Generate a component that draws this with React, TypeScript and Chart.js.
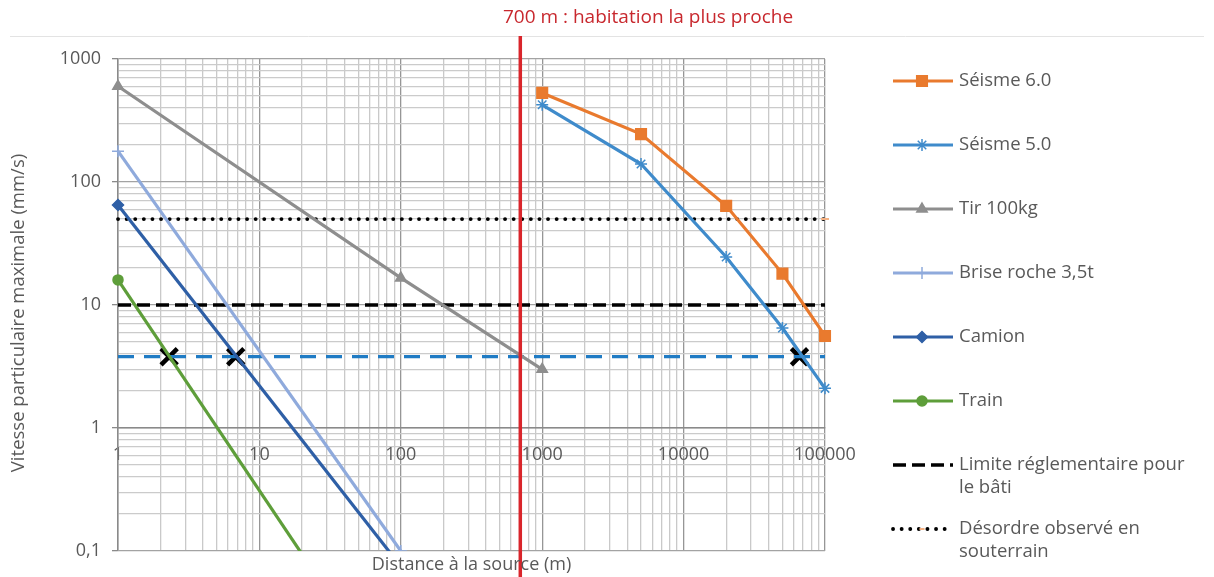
import React, { useEffect, useRef } from "react";
import { Chart, registerables } from "chart.js";
import { drawPoint } from "chart.js/helpers";

Chart.register(...registerables);

// ---------- data ----------
const seisme6X = [1000, 5000, 20000, 50000, 100000];
const seisme6Y = [530, 245, 64, 18, 5.6];
const seisme5X = [1000, 5000, 20000, 50000, 100000];
const seisme5Y = [424, 140, 24.6, 6.5, 2.1];
const tirX = [1, 100, 1000];
const tirY = [600, 16.6, 3.0];
const briseX = [1, 100];
const briseY = [178, 0.1];
const camionX = [1, 100];
const camionY = [65, 0.075];
const trainX = [1, 100];
const trainY = [16, 0.006];
const limiteX = [1, 100000];
const limiteY = [10, 10];
const desordreX = [1, 100000];
const desordreY = [50, 50];
const seuilX = [1, 100000];
const seuilY = [3.8, 3.8];
const crossX = [2.3, 6.8, 66000];
const crossY = [3.8, 3.8, 3.8];
const habitationDistance = 700;

const titleText = "700 m : habitation la plus proche";
const xTitle = "Distance à la source (m)";
const yTitle = "Vitesse particulaire maximale (mm/s)";
const legendLabels = [
  ["Séisme 6.0"],
  ["Séisme 5.0"],
  ["Tir 100kg"],
  ["Brise roche 3,5t"],
  ["Camion"],
  ["Train"],
  ["Limite réglementaire pour", "le bâti"],
  ["Désordre observé en", "souterrain"],
];

const FONT = "'Open Sans', 'DejaVu Sans', sans-serif";
const TEXT = "#595959";
const W = 1214;
const H = 577;

const pts = (xs: number[], ys: number[]) => xs.map((x, i) => ({ x, y: ys[i] }));

const isPow10 = (v: number) => {
  if (!v || v <= 0) return false;
  const l = Math.log10(v);
  return Math.abs(l - Math.round(l)) < 1e-9;
};

const logTicks = (min: number, max: number) => {
  const out: { value: number }[] = [];
  for (let e = Math.floor(Math.log10(min)); e <= Math.ceil(Math.log10(max)); e++) {
    for (let m = 1; m <= 9; m++) {
      const v = Number((m * Math.pow(10, e)).toPrecision(6));
      if (v >= min - 1e-12 && v <= max + 1e-9) out.push({ value: v });
    }
  }
  return out;
};

const fmt = (v: number) => String(v).replace(".", ",");

const overlayPlugin = {
  id: "overlay",
  afterDraw(chart: any) {
    const { ctx, chartArea, scales } = chart;
    ctx.save();
    // top border line
    ctx.strokeStyle = "#e3e3e3";
    ctx.lineWidth = 1;
    ctx.beginPath();
    ctx.moveTo(10, 36.5);
    ctx.lineTo(W - 10, 36.5);
    ctx.stroke();
    // red distance line
    const rx = scales.x.getPixelForValue(habitationDistance);
    ctx.strokeStyle = "#D9252B";
    ctx.lineWidth = 3.5;
    ctx.beginPath();
    ctx.moveTo(rx, 36);
    ctx.lineTo(rx, H);
    ctx.stroke();
    // title
    ctx.fillStyle = "#C8282E";
    ctx.font = `19px ${FONT}`;
    ctx.textAlign = "center";
    ctx.textBaseline = "middle";
    ctx.fillText(titleText, 648, 18);
    // x title
    ctx.fillStyle = TEXT;
    ctx.font = `18px ${FONT}`;
    ctx.fillText(xTitle, (chartArea.left + chartArea.right) / 2, 565);
    // y title
    ctx.save();
    ctx.translate(19, (chartArea.top + chartArea.bottom) / 2 + 8);
    ctx.rotate(-Math.PI / 2);
    ctx.font = `18.5px ${FONT}`;
    ctx.fillText(yTitle, 0, 0);
    ctx.restore();

    // legend
    const x0 = 893;
    const x1 = 953;
    const mx = 922;
    const tx = 959;
    legendLabels.forEach((lines, i) => {
      const ds = chart.data.datasets[i];
      const y = 81 + i * 64;
      ctx.strokeStyle = ds.borderColor;
      ctx.lineWidth = ds.borderWidth;
      ctx.setLineDash(ds.borderDash || []);
      ctx.lineCap = ds.borderCapStyle || "butt";
      ctx.beginPath();
      ctx.moveTo(x0, y);
      ctx.lineTo(x1, y);
      ctx.stroke();
      ctx.setLineDash([]);
      ctx.lineCap = "butt";
      if (ds.legendMarker) {
        ctx.fillStyle = ds.pointBackgroundColor;
        ctx.strokeStyle = ds.pointBorderColor;
        ctx.lineWidth = ds.pointBorderWidth;
        drawPoint(ctx, { pointStyle: ds.pointStyle, radius: ds.legendRadius ?? 5, borderWidth: ds.pointBorderWidth, rotation: 0 }, mx, y);
      }
      ctx.fillStyle = TEXT;
      ctx.font = `18.5px ${FONT}`;
      ctx.textAlign = "left";
      ctx.textBaseline = "middle";
      lines.forEach((t, j) => ctx.fillText(t, tx, y + j * 23));
    });
    ctx.restore();
  },
};

export default function App() {
  const ref = useRef<HTMLCanvasElement>(null);

  useEffect(() => {
    const prevMargin = document.body.style.margin;
    document.body.style.margin = "0";
    const canvas = ref.current!;
    const orange = "#E97A2E";
    const blue5 = "#3F8BCB";
    const gray = "#8E8E8E";
    const light = "#8FAADC";
    const camion = "#2E5FA6";
    const green = "#5E9E3A";

    const line = (label: string, xs: number[], ys: number[], color: string, style: string, radius: number, extra: any = {}) => ({
      label,
      data: pts(xs, ys),
      borderColor: color,
      backgroundColor: color,
      borderWidth: 3.2,
      pointStyle: style,
      pointRadius: radius,
      pointHoverRadius: radius,
      pointBackgroundColor: color,
      pointBorderColor: color,
      pointBorderWidth: 1.5,
      legendMarker: true,
      legendRadius: radius,
      clip: { left: 12, right: 12, top: 12, bottom: 0 },
      ...extra,
    });

    const chart = new Chart(canvas, {
      type: "line",
      data: {
        datasets: [
          line("Séisme 6.0", seisme6X, seisme6Y, orange, "rect", 7.5),
          line("Séisme 5.0", seisme5X, seisme5Y, blue5, "star", 6, { pointBorderWidth: 1.5 }),
          line("Tir 100kg", tirX, tirY, gray, "triangle", 6),
          line("Brise roche 3,5t", briseX, briseY, light, "cross", 6, { pointBorderWidth: 1.5 }),
          line("Camion", camionX, camionY, camion, "rectRot", 5.5),
          line("Train", trainX, trainY, green, "circle", 5),
          {
            label: "Limite réglementaire pour le bâti",
            data: pts(limiteX, limiteY),
            borderColor: "#000000",
            borderWidth: 3.5,
            borderDash: [13, 6],
            pointRadius: 0,
            legendMarker: false,
          },
          {
            label: "Désordre observé en souterrain",
            data: pts(desordreX, desordreY),
            borderColor: "#000000",
            borderWidth: 3.8,
            borderDash: [0.1, 8.5],
            borderCapStyle: "round",
            pointStyle: "line",
            pointRadius: [0, 4],
            pointBorderColor: "#F4B183",
            pointBackgroundColor: "#F4B183",
            pointBorderWidth: 2,
            legendMarker: true,
            legendRadius: 2.5,
            clip: { left: 12, right: 12, top: 12, bottom: 0 },
          },
          {
            label: "Seuil",
            data: pts(seuilX, seuilY),
            borderColor: "#1F7BC4",
            borderWidth: 3.2,
            borderDash: [16, 10],
            pointRadius: 0,
            clip: { left: 0, right: 12, top: 0, bottom: 0 },
          },
          {
            label: "Intersections",
            data: pts(crossX, crossY),
            showLine: false,
            borderColor: "#000000",
            backgroundColor: "#000000",
            pointStyle: "crossRot",
            pointRadius: 11.5,
            pointBorderWidth: 4.5,
            pointBorderColor: "#000000",
          },
        ] as any,
      },
      options: {
        responsive: false,
        animation: false,
        events: [],
        layout: { padding: { left: 0, right: 389, top: 59, bottom: 26 } },
        plugins: { legend: { display: false }, tooltip: { enabled: false }, title: { display: false } },
        scales: {
          x: {
            type: "logarithmic",
            min: 1,
            max: 100000,
            position: { y: 1 } as any,
            afterBuildTicks: (s: any) => {
              s.ticks = logTicks(1, 100000);
            },
            ticks: {
              autoSkip: false,
              maxRotation: 0,
              padding: 16,
              color: TEXT,
              font: { family: FONT, size: 18 },
              callback: (v: any) => (isPow10(Number(v)) ? fmt(Number(v)) : ""),
            },
            grid: {
              drawTicks: false,
              color: (c: any) => (isPow10(c.tick?.value) ? "#969696" : "#c9c9c9"),
              lineWidth: 1.3,
            },
            border: { display: true, color: "#8a8a8a", width: 1.5 },
          },
          y: {
            type: "logarithmic",
            min: 0.1,
            max: 1000,
            position: "left",
            afterFit: (s: any) => {
              s.width = 118;
            },
            afterBuildTicks: (s: any) => {
              s.ticks = logTicks(0.1, 1000);
            },
            ticks: {
              autoSkip: false,
              padding: 11,
              color: TEXT,
              font: { family: FONT, size: 18 },
              callback: (v: any) => (isPow10(Number(v)) ? fmt(Number(v)) : ""),
            },
            grid: {
              drawTicks: true,
              tickLength: 6,
              color: (c: any) => (isPow10(c.tick?.value) ? "#a3a3a3" : "#cbcbcb"),
              tickColor: (c: any) => (isPow10(c.tick?.value) ? "#8a8a8a" : "rgba(0,0,0,0)"),
              lineWidth: 1.3,
            },
            border: { display: true, color: "#8a8a8a", width: 1.5 },
          },
        },
      } as any,
      plugins: [overlayPlugin],
    });
    return () => {
      chart.destroy();
      document.body.style.margin = prevMargin;
    };
  }, []);

  return (
    <div style={{ position: "fixed", left: 0, top: 0, width: W, height: H, background: "#fff" }}>
      <canvas ref={ref} width={W} height={H} style={{ display: "block" }} />
    </div>
  );
}
